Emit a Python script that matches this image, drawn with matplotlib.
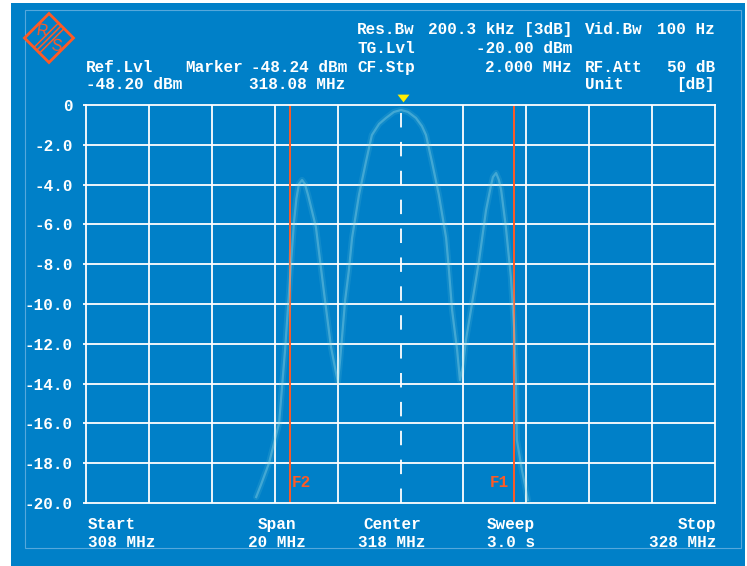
"""Spectrum analyser screen: measured trace, F1/F2 markers and the settings header."""
import matplotlib

matplotlib.use("Agg")
import matplotlib.pyplot as plt
from matplotlib.patches import Polygon, Rectangle
from matplotlib.transforms import blended_transform_factory

# Trace (frequency in MHz, level in dB relative to Ref.Lvl)
trace_mhz = [313.41, 313.56, 313.82, 314.14, 314.33, 314.52, 314.61, 314.69, 314.77,
             314.87, 314.96, 315.06, 315.31, 315.57, 315.79, 315.95, 316.01,
             316.08, 316.24, 316.36, 316.46, 316.68, 316.90, 317.09, 317.32, 317.54,
             317.79, 318.02, 318.24, 318.49, 318.68, 318.81, 319.00, 319.22, 319.45,
             319.54, 319.64, 319.80, 319.89,
             319.99, 320.08, 320.24, 320.50, 320.72, 320.88, 320.94, 321.04, 321.13,
             321.20, 321.35, 321.51, 321.61, 321.67, 321.70, 321.86, 321.99, 322.05]
trace_db = [-19.70, -19.10, -17.99, -15.98, -12.30, -7.94, -5.93, -4.70, -3.97,
            -3.77, -3.97, -4.52, -6.13, -9.45, -12.16, -13.47, -13.92,
            -12.81, -9.80, -8.29, -6.68, -4.52, -2.86, -1.51, -0.95, -0.65,
            -0.35, -0.25, -0.35, -0.65, -1.06, -1.51, -2.86, -4.52, -6.68,
            -8.29, -10.30, -12.31, -13.82,
            -13.07, -11.81, -10.30, -7.79, -5.28, -4.02, -3.62, -3.42, -3.77,
            -4.27, -6.13, -8.64, -11.16, -13.82, -16.83, -18.34, -19.35, -19.85]

start_mhz, stop_mhz, center_mhz = 308, 328, 318
x_grid = list(range(308, 329, 2))
y_grid = list(range(0, -21, -2))
y_labels = ["0", "-2.0", "-4.0", "-6.0", "-8.0", "-10.0", "-12.0",
            "-14.0", "-16.0", "-18.0", "-20.0"]

marker_mhz = 318.08
f2_mhz, f1_mhz = 314.49, 321.61

BLUE = "#0080c8"
ORANGE = "#ff5a24"
MONO = dict(family="Liberation Mono", weight="bold", size=11.5, color="white")

W, H = 747, 566
fig = plt.figure(figsize=(W / 100, H / 100), dpi=100)

# background panel in pixel units
bg = fig.add_axes([0, 0, 1, 1])
bg.set_xlim(0, W)
bg.set_ylim(H, 0)
bg.axis("off")
bg.add_patch(Rectangle((11, 3), 734, 563, color=BLUE, lw=0))
bg.add_patch(Rectangle((25, 10), 716, 538, fill=False, ec="#55a8dc", lw=0.8))

# R&S logo
cx, cy, r = 49, 38, 24.5
bg.add_patch(Polygon([(cx - r, cy), (cx, cy - r), (cx + r, cy), (cx, cy + r)],
                     closed=True, fill=False, ec=ORANGE, lw=2.0))
for d in (-2.8, 0, 2.8):
    bg.plot([cx + d - r / 2, cx + d + r / 2], [cy + d + r / 2, cy + d - r / 2],
            color=ORANGE, lw=1.1)
bg.text(cx - 7, cy - 7, "R", ha="center", va="center", color=ORANGE,
        family="Liberation Sans", size=11.5, rotation=-8)
bg.text(cx + 7, cy + 8, "S", ha="center", va="center", color=ORANGE,
        family="Liberation Sans", size=11.5, rotation=-8)

# header
header = [
    (357, 34, "Res.Bw", "left"), (428, 34, "200.3 kHz [3dB]", "left"),
    (585, 34, "Vid.Bw", "left"), (715, 34, "100 Hz", "right"),
    (357, 53, "TG.Lvl", "left"), (572, 53, "-20.00 dBm", "right"),
    (86, 72, "Ref.Lvl", "left"), (185, 72, "Marker", "left"),
    (347, 72, "-48.24 dBm", "right"), (357, 72, "CF.Stp", "left"),
    (572, 72, "2.000 MHz", "right"), (585, 72, "RF.Att", "left"),
    (715, 72, "50 dB", "right"),
    (86, 89, "-48.20 dBm", "left"), (345, 89, "318.08 MHz", "right"),
    (585, 89, "Unit", "left"), (715, 89, "[dB]", "right"),
    # footer
    (88, 529, "Start", "left"), (88, 547, "308 MHz", "left"),
    (277, 529, "Span", "center"), (277, 547, "20 MHz", "center"),
    (392, 529, "Center", "center"), (392, 547, "318 MHz", "center"),
    (487, 529, "Sweep", "left"), (487, 547, "3.0 s", "left"),
    (716, 529, "Stop", "right"), (716, 547, "328 MHz", "right"),
]
for x, y, s, ha in header:
    bg.text(x, y, s, ha=ha, va="baseline", **MONO)

# plot area
left, right, top, bottom = 86, 715, 105, 503
ax = fig.add_axes([left / W, (H - bottom) / H, (right - left) / W, (bottom - top) / H])
ax.set_facecolor("none")
ax.set_xlim(start_mhz, stop_mhz)
ax.set_ylim(-20, 0)

for x in x_grid:
    if x == center_mhz:
        ax.axvline(x, color="white", lw=1.3, ls=(0, (8, 8)), zorder=1)
    elif start_mhz < x < stop_mhz:
        ax.axvline(x, color="white", lw=1.3, zorder=1)
for y in y_grid[1:-1]:
    ax.axhline(y, color="white", lw=1.3, zorder=1)
for sp in ax.spines.values():
    sp.set_color("white")
    sp.set_linewidth(1.3)

ax.set_xticks([])
ax.set_yticks(y_grid)
ax.set_yticklabels(y_labels)
ax.tick_params(axis="y", length=2.5, width=1.3, color="white", pad=7, labelcolor="white")
for lab in ax.get_yticklabels():
    lab.set_fontfamily("Liberation Mono")
    lab.set_fontweight("bold")
    lab.set_fontsize(11.5)

# F1 / F2 frequency lines
ax.axvline(f2_mhz, color=ORANGE, lw=1.4, zorder=2)
ax.axvline(f1_mhz, color=ORANGE, lw=1.4, zorder=2)
ax.text(f2_mhz + 0.06, -19.2, "F2", ha="left", va="baseline", color=ORANGE,
        family="Liberation Mono", weight="bold", size=11.5)
ax.text(f1_mhz - 0.15, -19.2, "F1", ha="right", va="baseline", color=ORANGE,
        family="Liberation Mono", weight="bold", size=11.5)

# measured trace, drawn faint with a soft halo
ax.plot(trace_mhz, trace_db, color="#7fd0dc", lw=4.5, alpha=0.14, zorder=3,
        solid_joinstyle="round", solid_capstyle="round")
ax.plot(trace_mhz, trace_db, color="#9fe0e8", lw=1.6, alpha=0.35, zorder=3,
        solid_joinstyle="round")

# marker triangle above the frame
trans = blended_transform_factory(ax.transData, ax.transAxes)
ax.plot([marker_mhz], [1.018], transform=trans, clip_on=False, ls="none",
        marker=[(-1, 0.65), (1, 0.65), (0, -0.65)], markersize=8.6,
        color="#ffee00", mec="none")

fig.savefig("out.png", dpi=100)
